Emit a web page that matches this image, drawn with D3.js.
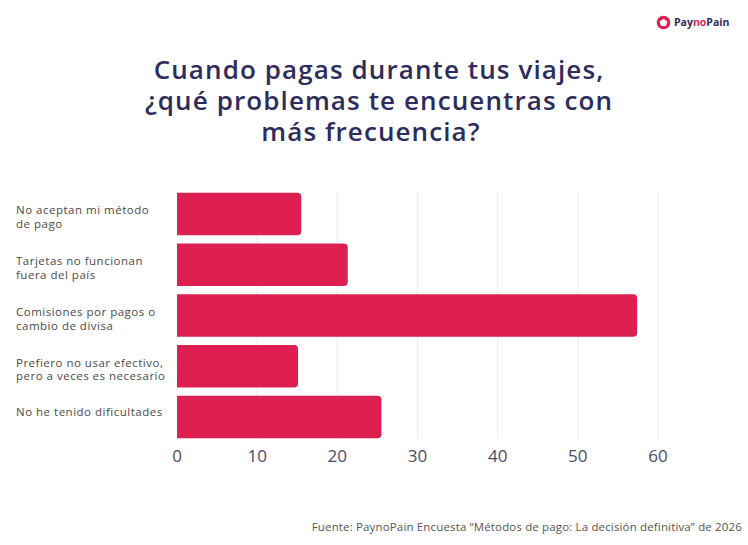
<!DOCTYPE html>
<html>
<head>
<meta charset="utf-8">
<script src="https://cdn.jsdelivr.net/npm/d3@7"></script>
<style>
  html, body { margin: 0; padding: 0; background: #fff; }
  svg { display: block; }
</style>
</head>
<body>
<div id="chart"></div>
<script>
// data
const categories = [
  ["No aceptan mi método", "de pago"],
  ["Tarjetas no funcionan", "fuera del país"],
  ["Comisiones por pagos o", "cambio de divisa"],
  ["Prefiero no usar efectivo,", "pero a veces es necesario"],
  ["No he tenido dificultades"]
];
const values = [15.5, 21.3, 57.4, 15.1, 25.5];
const ticks = [0, 10, 20, 30, 40, 50, 60];
const titleLines = [
  "Cuando pagas durante tus viajes,",
  "¿qué problemas te encuentras con",
  "más frecuencia?"
];
const source = "Fuente: PaynoPain Encuesta “Métodos de pago: La decisión definitiva” de 2026";

const W = 748, H = 545;
const navy = "#2d2c5c";
const red = "#dd1f51";
const font = "'Open Sans', sans-serif";

const svg = d3.select("#chart").append("svg")
  .attr("width", W).attr("height", H)
  .attr("viewBox", "0 0 " + W + " " + H);

svg.append("rect").attr("width", W).attr("height", H).attr("fill", "#fff");

const X = d3.scaleLinear().domain([0, 60]).range([177, 658]);
const Y = d3.scaleBand().domain(d3.range(values.length))
  .range([188.5, 442.5]).paddingInner(0.165).paddingOuter(0.083);

// logo
const logo = svg.append("g").attr("transform", "translate(663.5,22.5)");
logo.append("circle").attr("r", 6.8).attr("fill", red);
logo.append("path")
  .attr("d", d3.line().curve(d3.curveLinearClosed)(d3.range(5).map(i => {
    const a = -Math.PI / 2 + i * 2 * Math.PI / 5;
    return [3.3 * Math.cos(a), 3.3 * Math.sin(a) + 0.3];
  })))
  .attr("fill", "#fff").attr("stroke", "#fff").attr("stroke-width", 1.2).attr("stroke-linejoin", "round");
const lt = logo.append("text").attr("x", 10.5).attr("y", 3.8)
  .style("font-family", font).style("font-weight", 700).style("font-size", "10.5px");
lt.append("tspan").attr("fill", navy).text("Pay");
lt.append("tspan").attr("fill", red).text("no");
lt.append("tspan").attr("fill", navy).text("Pain");

// title, one text block with a tspan per line
svg.append("text")
  .attr("text-anchor", "middle")
  .attr("fill", navy)
  .style("font-family", font).style("font-weight", 600).style("font-size", "26px")
  .style("letter-spacing", "1.1px")
  .selectAll("tspan").data(titleLines).enter().append("tspan")
  .attr("x", (d, i) => i == 2 ? 371 : 379)
  .attr("y", (d, i) => 78.5 + i * 31)
  .text(d => d);

// grid
svg.append("g").selectAll("line").data(ticks.filter(t => t > 0)).enter().append("line")
  .attr("x1", d => X(d)).attr("x2", d => X(d))
  .attr("y1", Y.range()[0] + 3).attr("y2", Y.range()[1] - 3)
  .attr("stroke", "#ebebf0").attr("stroke-width", 1);

// bars, rounded on the right end
const r = 4;
svg.append("g").selectAll("path").data(values).enter().append("path")
  .attr("d", (d, i) => {
    const x0 = X(0), x1 = X(d), y0 = Y(i), h = Y.bandwidth();
    return "M" + x0 + "," + y0 + "H" + (x1 - r) + "Q" + x1 + "," + y0 + " " + x1 + "," + (y0 + r)
      + "V" + (y0 + h - r) + "Q" + x1 + "," + (y0 + h) + " " + (x1 - r) + "," + (y0 + h) + "H" + x0 + "Z";
  })
  .attr("fill", red);

// x axis labels
svg.append("g").selectAll("text").data(ticks).enter().append("text")
  .attr("x", d => X(d)).attr("y", 462)
  .attr("text-anchor", "middle").attr("fill", "#4a4a68")
  .style("font-family", font).style("font-size", "17px")
  .text(d => d);

// category labels
const lab = svg.append("g").selectAll("text").data(categories).enter().append("text")
  .attr("fill", "#4a4a4a")
  .style("font-family", font).style("font-size", "11.5px")
  .style("letter-spacing", "0.5px");
lab.selectAll("tspan").data((d, i) => d.map(s => ({s: s, i: i, n: d.length}))).enter().append("tspan")
  .attr("x", 16)
  .attr("y", (d, j) => Y(d.i) + Y.bandwidth() / 2 + (d.n == 1 ? -1 : 0.5) + j * 13.5)
  .text(d => d.s);

// source
svg.append("text").attr("x", 742).attr("y", 531)
  .attr("text-anchor", "end").attr("fill", "#555")
  .style("font-family", font).style("font-size", "11.5px")
  .style("letter-spacing", "0.15px")
  .text(source);
</script>
</body>
</html>
